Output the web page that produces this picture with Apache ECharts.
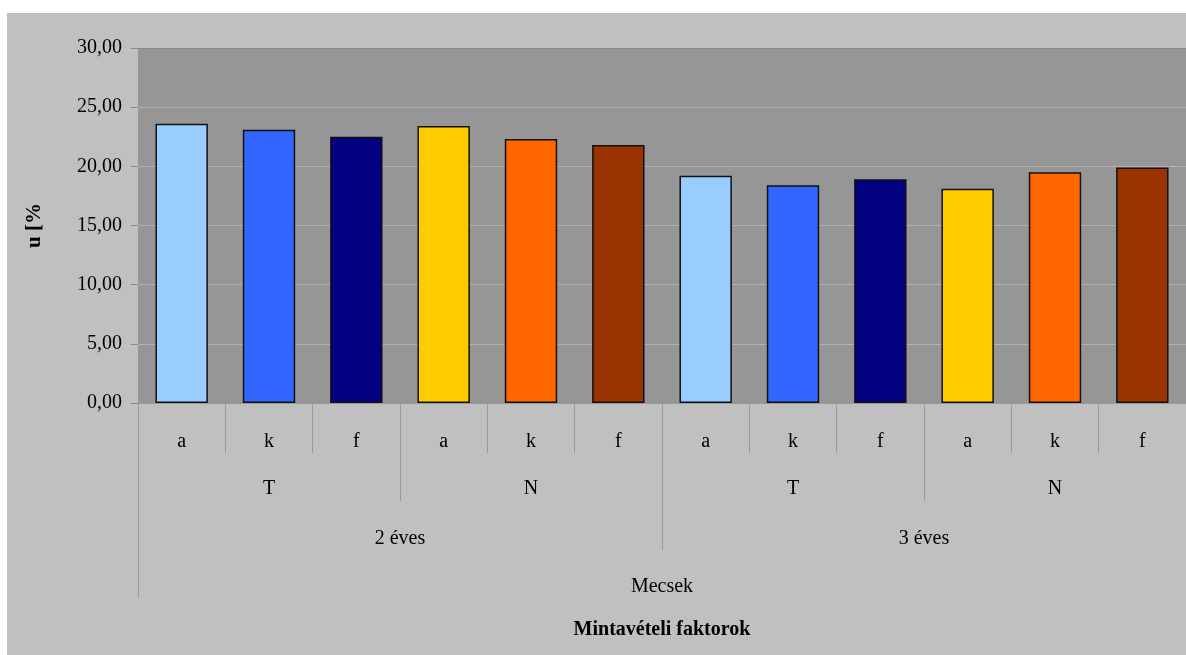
<!DOCTYPE html>
<html>
<head>
<meta charset="utf-8">
<script src="https://cdn.jsdelivr.net/npm/echarts@6/dist/echarts.min.js"></script>
<style>
html,body{margin:0;padding:0;background:#ffffff;}
#chart{position:absolute;left:7px;top:13px;width:1179px;height:642px;}
</style>
</head>
<body>
<div id="chart"></div>
<script>
// Data
var level1 = ['a','k','f','a','k','f','a','k','f','a','k','f'];
var level2 = ['T','N','T','N'];
var level3 = ['2 éves','3 éves'];
var level4 = ['Mecsek'];
var values = [23.6, 23.1, 22.5, 23.4, 22.3, 21.8, 19.2, 18.4, 18.9, 18.1, 19.5, 19.9];
var yTicks = [0, 5, 10, 15, 20, 25, 30];
var xTitle = 'Mintavételi faktorok';
var yTitle = 'u [%';

var palette = ['#99ccff','#3366ff','#000080','#ffcc00','#ff6600','#993300'];
var FONT = '"Liberation Serif", "DejaVu Serif", serif';

var chart = echarts.init(document.getElementById('chart'));

function levelAxis(data, tickLen, margin, extra) {
  var ax = {
    type: 'category',
    gridIndex: 0,
    position: 'bottom',
    offset: 0,
    data: data,
    boundaryGap: true,
    axisLine: { show: false },
    axisTick: { show: true, interval: 0, alignWithLabel: false, length: tickLen,
                lineStyle: { color: '#9a9a9a', width: 1 } },
    axisLabel: { show: true, interval: 0, margin: margin, verticalAlign: 'middle',
                 color: '#000', fontFamily: FONT, fontSize: 20 },
    splitLine: { show: false }
  };
  if (extra) { for (var k in extra) ax[k] = extra[k]; }
  return ax;
}

var xAxes = [
  levelAxis(level1, 50, 39, { axisLine: { show: true, lineStyle: { color: '#999', width: 1 } } }),
  levelAxis(level2, 98, 86),
  levelAxis(level3, 147, 136),
  levelAxis(level4, 195, 184, {
    name: xTitle, nameLocation: 'middle', nameGap: 227,
    nameTextStyle: { fontFamily: FONT, fontSize: 20, fontWeight: 'bold', color: '#000', verticalAlign: 'middle' }
  })
];

var option = {
  backgroundColor: '#c0c0c0',
  animation: false,
  grid: { left: 131, top: 35, right: 0, bottom: 252, show: true,
          backgroundColor: '#969696', borderWidth: 0 },
  xAxis: xAxes,
  yAxis: {
    type: 'value',
    min: yTicks[0], max: yTicks[yTicks.length - 1], interval: 5,
    name: yTitle, nameLocation: 'middle', nameGap: 93, nameRotate: 90,
    nameTextStyle: { fontFamily: FONT, fontSize: 21, fontWeight: 'bold', color: '#000' },
    axisLine: { show: false },
    axisTick: { show: true, inside: false, length: 7, lineStyle: { color: '#888' } },
    axisLabel: { margin: 16, color: '#000', fontFamily: FONT, fontSize: 20,
                 formatter: function (v) { return v.toFixed(2).replace('.', ','); } },
    splitLine: { show: true, lineStyle: { color: ['#999','#b2b2b2','#b2b2b2','#b2b2b2','#b2b2b2','#b2b2b2','#888'], width: 1 } }
  },
  series: [{
    type: 'bar',
    xAxisIndex: 0,
    yAxisIndex: 0,
    data: values,
    barWidth: '60%',
    itemStyle: {
      color: function (p) { return palette[p.dataIndex % palette.length]; },
      borderColor: '#111',
      borderWidth: 1.5
    }
  }]
};
chart.setOption(option);
</script>
</body>
</html>
